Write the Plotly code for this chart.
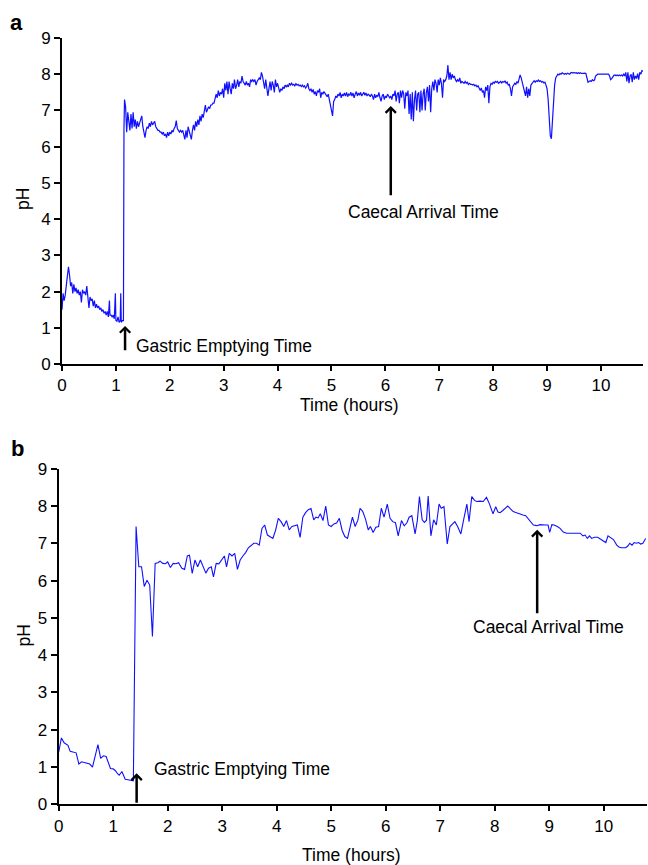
import plotly.graph_objects as go

# ---------------- Panel a data ----------------
a_time = [0.00,0.02,0.04,0.06,0.09,0.12,0.14,0.16,0.18,0.20,0.22,0.24,0.26,0.28,0.30,0.32,0.34,0.36,0.38,0.40,
          0.42,0.44,0.46,0.48,0.50,0.52,0.54,0.56,0.58,0.60,0.62,0.64,0.66,0.68,0.70,0.72,0.74,0.76,0.78,0.80,
          0.82,0.84,0.86,0.88,0.89,0.91,0.93,0.95,0.97,0.99,1.00,1.02,1.04,1.06,1.08,1.09,1.10,1.12,1.14,1.15,
          1.16,1.18,1.20,1.22,1.24,1.26,1.28,1.30,1.32,1.34,1.36,1.38,1.40,1.42,1.44,1.46,1.48,1.50,1.52,1.54,
          1.56,1.58,1.60,1.62,1.64,1.66,1.68,1.70,1.72,1.74,1.76,1.78,1.80,1.82,1.84,1.86,1.88,1.90,1.92,1.94,
          1.96,1.98,2.00,2.02,2.04,2.06,2.08,2.10,2.12,2.14,2.16,2.18,2.20,2.22,2.24,2.26,2.28,2.30,2.32,2.34,
          2.36,2.38,2.40,2.42,2.44,2.46,2.48,2.50,2.52,2.54,2.56,2.58,2.60,2.62,2.64,2.66,2.68,2.70,2.72,2.74,
          2.76,2.78,2.80,2.82,2.84,2.86,2.88,2.90,2.92,2.94,2.96,2.98,3.00,3.02,3.04,3.06,3.08,3.10,3.12,3.14,
          3.16,3.18,3.20,3.22,3.24,3.26,3.28,3.30,3.32,3.34,3.36,3.38,3.40,3.42,3.44,3.46,3.48,3.50,3.52,3.54,
          3.56,3.58,3.60,3.62,3.64,3.66,3.68,3.70,3.72,3.74,3.76,3.78,3.80,3.82,3.84,3.86,3.88,3.90,3.92,3.94,
          3.96,3.98,4.00,4.02,4.04,4.06,4.08,4.10,4.12,4.14,4.16,4.18,4.20,4.22,4.24,4.26,4.28,4.30,4.32,4.34,
          4.36,4.38,4.40,4.42,4.44,4.46,4.48,4.50,4.52,4.54,4.56,4.58,4.60,4.62,4.64,4.66,4.68,4.70,4.72,4.74,
          4.76,4.78,4.80,4.82,4.84,4.86,4.88,4.90,4.92,4.94,4.96,4.98,5.00,5.02,5.04,5.06,5.08,5.10,5.12,5.14,
          5.16,5.18,5.20,5.22,5.24,5.26,5.28,5.30,5.32,5.34,5.36,5.38,5.40,5.42,5.44,5.46,5.48,5.50,5.52,5.54,
          5.56,5.58,5.60,5.62,5.64,5.66,5.68,5.70,5.72,5.74,5.76,5.78,5.80,5.82,5.84,5.86,5.88,5.90,5.92,5.94,
          5.96,5.98,6.00,6.02,6.04,6.06,6.08,6.10,6.12,6.14,6.16,6.18,6.20,6.22,6.24,6.26,6.28,6.30,6.32,6.34,
          6.36,6.38,6.40,6.42,6.44,6.46,6.48,6.50,6.52,6.54,6.56,6.58,6.60,6.62,6.64,6.66,6.68,6.70,6.72,6.74,
          6.76,6.78,6.80,6.82,6.84,6.86,6.88,6.90,6.92,6.94,6.96,6.98,7.00,7.02,7.04,7.06,7.08,7.10,7.12,7.14,
          7.16,7.18,7.20,7.22,7.24,7.26,7.28,7.30,7.32,7.34,7.36,7.38,7.40,7.42,7.44,7.46,7.48,7.50,7.52,7.54,
          7.56,7.58,7.60,7.62,7.64,7.66,7.68,7.70,7.72,7.74,7.76,7.78,7.80,7.82,7.84,7.86,7.88,7.90,7.92,7.94,
          7.96,7.98,8.00,8.02,8.04,8.06,8.08,8.10,8.12,8.14,8.16,8.18,8.20,8.22,8.24,8.26,8.28,8.30,8.32,8.34,
          8.36,8.38,8.40,8.42,8.44,8.46,8.48,8.50,8.52,8.54,8.56,8.58,8.60,8.62,8.64,8.66,8.68,8.70,8.72,8.74,
          8.76,8.78,8.80,8.82,8.84,8.86,8.88,8.90,8.92,8.94,8.96,8.98,9.00,9.02,9.04,9.06,9.08,9.10,9.12,9.14,
          9.16,9.18,9.20,9.22,9.24,9.26,9.28,9.30,9.32,9.34,9.36,9.38,9.40,9.42,9.44,9.46,9.48,9.50,9.52,9.54,
          9.56,9.58,9.60,9.62,9.64,9.66,9.68,9.70,9.72,9.74,9.76,9.78,9.80,9.82,9.84,9.86,9.88,9.90,9.92,9.94,
          9.96,9.98,10.00,10.02,10.04,10.06,10.08,10.10,10.12,10.14,10.16,10.18,10.20,10.22,10.24,10.26,10.28,10.30,10.32,10.34,
          10.36,10.38,10.40,10.42,10.44,10.46,10.48,10.50,10.52,10.54,10.56,10.58,10.60,10.62,10.64,10.66,10.68,10.70,10.72,10.74,
          10.76,10.78]
a_ph = [1.50,1.95,1.75,1.90,2.30,2.68,2.45,2.15,2.25,1.95,2.20,2.00,2.10,1.95,2.05,1.90,2.00,1.70,2.05,1.95,
        2.00,1.90,2.15,1.80,1.55,1.85,1.75,1.80,1.60,1.75,1.55,1.65,1.55,1.60,1.50,1.55,1.45,1.50,1.40,1.45,
        1.35,1.45,1.30,1.75,1.35,1.35,1.30,1.35,1.25,1.95,1.20,1.18,1.30,1.15,1.20,1.95,1.15,1.20,1.20,6.50,
        7.30,7.10,6.40,6.95,6.60,6.45,6.90,6.50,6.95,6.55,6.75,6.50,6.70,6.55,6.65,6.75,6.85,6.55,6.40,6.25,
        6.45,6.55,6.50,6.65,6.55,6.70,6.60,6.65,6.70,6.55,6.50,6.45,6.45,6.40,6.40,6.35,6.40,6.30,6.35,6.25,
        6.40,6.30,6.40,6.35,6.45,6.40,6.50,6.55,6.72,6.50,6.45,6.40,6.45,6.40,6.45,6.35,6.20,6.45,6.25,6.55,
        6.40,6.30,6.20,6.45,6.60,6.45,6.70,6.55,6.75,6.60,6.85,6.70,6.90,6.80,7.00,7.15,6.95,7.05,7.10,7.05,
        7.15,7.15,7.20,7.20,7.35,7.45,7.35,7.55,7.40,7.50,7.45,7.60,7.35,7.75,7.55,7.80,7.45,7.80,7.60,7.45,
        7.75,7.60,7.85,7.60,7.70,7.85,7.65,7.80,7.75,7.95,7.80,7.75,7.70,7.80,7.70,7.75,7.65,7.85,7.80,7.85,
        7.80,7.85,7.70,7.80,7.85,7.90,7.85,8.05,7.95,7.75,7.60,7.85,7.55,7.40,7.60,7.80,7.55,7.80,7.70,7.50,
        7.85,7.65,7.75,7.60,7.50,7.60,7.55,7.65,7.60,7.70,7.65,7.70,7.65,7.75,7.70,7.75,7.70,7.72,7.68,7.74,
        7.70,7.72,7.68,7.70,7.66,7.70,7.65,7.68,7.62,7.66,7.75,7.60,7.55,7.60,7.50,7.58,7.45,7.52,7.40,7.55,
        7.50,7.60,7.35,7.50,7.45,7.52,7.48,7.42,7.38,7.45,7.30,7.15,6.95,6.85,7.25,7.30,7.40,7.35,7.45,7.40,
        7.50,7.35,7.45,7.40,7.48,7.40,7.50,7.38,7.45,7.42,7.50,7.40,7.48,7.35,7.45,7.52,7.40,7.48,7.42,7.50,
        7.40,7.45,7.50,7.42,7.48,7.40,7.45,7.42,7.38,7.45,7.40,7.30,7.45,7.35,7.42,7.38,7.50,7.35,7.25,7.40,
        7.45,7.30,7.40,7.35,7.45,7.40,7.35,7.40,7.30,7.45,7.40,7.55,7.25,7.45,7.50,7.20,7.55,7.35,7.55,7.45,
        7.05,7.50,7.40,7.55,6.90,7.45,6.75,7.50,6.70,7.30,7.55,7.00,7.45,7.50,6.95,7.55,7.00,7.45,7.60,7.00,
        7.50,7.65,7.25,7.70,6.95,7.60,7.80,7.55,7.85,7.75,7.50,7.85,7.70,7.90,7.75,7.35,7.85,7.80,7.85,7.95,
        8.25,7.85,8.05,7.85,8.00,7.90,7.95,7.85,7.80,7.85,7.80,7.90,7.75,7.80,7.78,7.75,7.80,7.75,7.78,7.72,
        7.75,7.72,7.72,7.70,7.72,7.68,7.70,7.65,7.68,7.60,7.55,7.62,7.50,7.55,7.35,7.65,7.55,7.70,7.20,7.65,
        7.75,7.72,7.78,7.75,7.80,7.78,7.80,7.75,7.78,7.80,7.76,7.80,7.78,7.82,7.75,7.78,7.70,7.72,7.60,7.40,
        7.65,7.70,7.75,7.72,7.80,7.75,7.85,7.98,7.90,7.75,7.60,7.55,7.40,7.65,7.35,7.60,7.40,7.70,7.75,7.80,
        7.82,7.78,7.82,7.80,7.84,7.80,7.82,7.78,7.80,7.76,7.78,7.70,7.60,7.30,6.80,6.30,6.22,6.60,7.20,7.70,
        7.90,7.95,8.00,7.98,8.02,8.00,8.04,8.02,8.00,8.02,8.00,8.03,8.02,8.00,8.04,8.05,8.03,8.05,8.03,8.04,
        8.02,8.04,8.02,8.04,8.02,8.03,8.02,8.03,8.02,7.85,7.78,7.80,7.82,7.80,7.85,7.82,7.84,7.95,7.98,8.00,
        8.00,8.00,8.00,7.98,8.00,7.98,8.00,7.98,7.98,8.00,7.95,7.85,7.88,7.95,7.97,7.98,7.96,7.98,7.96,7.98,
        7.96,7.98,7.95,8.00,7.95,8.05,7.80,8.05,7.75,7.95,8.00,7.78,8.05,7.85,7.95,7.88,8.02,7.85,8.05,8.00,
        8.10,8.08]

# ---------------- Panel b data ----------------
b_time = [0.00,0.05,0.10,0.13,0.17,0.21,0.26,0.32,0.37,0.42,0.47,0.52,0.57,0.62,0.67,0.72,0.77,0.82,0.87,0.91,
          0.95,1.00,1.04,1.08,1.11,1.16,1.22,1.27,1.32,1.37,1.42,1.47,1.52,1.57,1.62,1.67,1.72,1.77,1.82,1.86,
          1.91,1.96,2.00,2.05,2.10,2.15,2.20,2.26,2.31,2.36,2.40,2.45,2.50,2.55,2.60,2.65,2.70,2.75,2.80,2.84,
          2.89,2.94,2.99,3.04,3.08,3.13,3.18,3.23,3.28,3.33,3.38,3.43,3.48,3.53,3.58,3.63,3.68,3.73,3.78,3.83,
          3.88,3.93,3.98,4.03,4.08,4.13,4.18,4.23,4.28,4.33,4.38,4.43,4.48,4.53,4.58,4.63,4.68,4.72,4.76,4.80,
          4.85,4.90,4.95,5.00,5.05,5.10,5.15,5.20,5.25,5.30,5.35,5.39,5.44,5.49,5.53,5.58,5.63,5.68,5.72,5.77,
          5.82,5.87,5.92,5.97,6.03,6.08,6.13,6.18,6.23,6.29,6.34,6.39,6.43,6.48,6.54,6.58,6.62,6.67,6.71,6.75,
          6.78,6.83,6.88,6.93,6.98,7.02,7.07,7.13,7.18,7.23,7.27,7.32,7.38,7.43,7.49,7.53,7.58,7.63,7.67,7.73,
          7.79,7.85,7.90,7.97,8.02,8.06,8.10,8.15,8.20,8.24,8.29,8.34,8.40,8.46,8.52,8.57,8.62,8.67,8.71,8.75,
          8.78,8.83,8.88,8.93,8.98,9.01,9.05,9.09,9.15,9.20,9.26,9.32,9.40,9.48,9.57,9.62,9.66,9.70,9.74,9.78,
          9.83,9.89,9.95,10.04,10.08,10.13,10.18,10.24,10.28,10.32,10.40,10.44,10.48,10.52,10.56,10.60,10.64,10.68,10.72,10.77]
b_ph = [1.40,1.78,1.65,1.62,1.58,1.42,1.40,1.38,1.08,1.14,1.12,1.10,1.08,1.00,1.30,1.60,1.23,1.30,1.28,1.10,
        0.96,0.95,0.90,0.82,0.78,0.88,0.67,0.66,0.65,0.63,7.45,6.37,6.37,5.84,6.01,5.88,4.50,6.46,6.48,6.52,
        6.46,6.45,6.50,6.35,6.46,6.45,6.48,6.33,6.30,6.66,6.68,6.19,6.55,6.37,6.55,6.35,6.20,6.33,6.37,6.10,
        6.46,6.45,6.55,6.66,6.37,6.73,6.66,6.73,6.30,6.55,6.66,6.75,6.88,6.95,7.00,7.00,6.95,7.40,7.49,7.22,
        7.18,7.13,7.35,7.67,7.58,7.45,7.61,7.36,7.45,7.47,7.49,7.16,7.70,7.82,7.90,7.93,7.63,7.70,7.68,7.79,
        7.61,8.00,7.49,7.45,7.52,7.54,7.67,7.35,7.18,7.13,7.45,7.70,7.45,7.62,7.94,7.85,7.65,7.36,7.45,7.29,
        7.43,7.45,7.94,7.70,8.05,7.67,7.58,7.55,7.20,7.61,7.47,7.55,7.70,7.74,7.25,7.60,8.25,7.63,7.56,7.62,
        8.27,7.20,7.63,7.49,8.05,7.94,7.98,6.98,7.45,7.52,7.58,7.45,7.25,7.63,8.05,7.58,8.25,8.15,8.12,8.13,
        8.12,8.23,8.07,7.79,7.98,7.84,7.82,7.88,7.95,8.00,7.92,7.85,7.82,7.80,7.76,7.74,7.65,7.55,7.49,7.48,
        7.47,7.50,7.49,7.49,7.49,7.29,7.50,7.49,7.45,7.40,7.30,7.27,7.27,7.27,7.27,7.20,7.22,7.13,7.20,7.13,
        7.16,7.16,7.10,7.02,7.20,7.15,7.10,6.95,6.90,6.88,6.88,6.92,7.00,6.95,7.02,7.00,7.02,6.98,7.00,7.13]

y_ticks = [0, 1, 2, 3, 4, 5, 6, 7, 8, 9]
x_ticks = [0, 1, 2, 3, 4, 5, 6, 7, 8, 9, 10]

FONT = "Liberation Sans, Arial, sans-serif"
W, H = 648, 865
LINE = "#1010ff"

fig = go.Figure()
fig.add_trace(go.Scatter(x=a_time, y=a_ph, mode="lines", line=dict(color=LINE, width=1.2),
                         xaxis="x", yaxis="y", showlegend=False, hoverinfo="skip"))
fig.add_trace(go.Scatter(x=b_time, y=b_ph, mode="lines", line=dict(color=LINE, width=1.1),
                         xaxis="x2", yaxis="y2", showlegend=False, hoverinfo="skip"))

def xax(domain, anchor, rng):
    return dict(domain=domain, anchor=anchor, range=rng, tickvals=x_ticks, automargin=False,
                ticks="outside", ticklen=5, tickwidth=1.5, tickcolor="black",
                showline=True, linecolor="black", linewidth=2, showgrid=False, zeroline=False,
                tickfont=dict(family=FONT, size=17, color="black"))

def yax(domain, anchor):
    return dict(domain=domain, anchor=anchor, range=[0, 9], tickvals=y_ticks, automargin=False,
                ticks="outside", ticklen=6, tickwidth=1.5, tickcolor="black",
                showline=True, linecolor="black", linewidth=2, showgrid=False, zeroline=False,
                tickfont=dict(family=FONT, size=17, color="black"))

fig.update_layout(
    width=W, height=H, autosize=False,
    margin=dict(l=0, r=0, t=0, b=0, autoexpand=False),
    paper_bgcolor="white", plot_bgcolor="white",
    xaxis=xax([62 / W, 643 / W], "y", [0, 10.78]),
    yaxis=yax([(H - 364) / H, (H - 38) / H], "x"),
    xaxis2=xax([58.7 / W, 646.7 / W], "y2", [0, 10.79]),
    yaxis2=yax([(H - 804.3) / H, (H - 468.7) / H], "x2"),
)

txt = dict(family=FONT, size=17.5, color="black")
ann = []

def ptxt(text, px, py, **kw):
    d = dict(text=text, x=px / W, y=(H - py) / H, xref="paper", yref="paper",
             xanchor="center", yanchor="middle", showarrow=False, font=txt)
    d.update(kw)
    return d

# panel letters
ann.append(ptxt("<b>a</b>", 16.7, 22.7, font=dict(family=FONT, size=22, color="black")))
ann.append(ptxt("<b>b</b>", 17.3, 448.3, font=dict(family=FONT, size=22, color="black")))
# axis titles
ann.append(ptxt("pH", 23, 199, textangle=-90))
ann.append(ptxt("pH", 23.5, 636, textangle=-90))
ann.append(ptxt("Time (hours)", 349.5, 405))
ann.append(ptxt("Time (hours)", 351, 855))

def arrow(xr, yr, x, ytip, ytail):
    return dict(x=x, y=ytip, ax=x, ay=ytail, xref=xr, yref=yr, axref=xr, ayref=yr,
                text="", showarrow=True, arrowhead=4, arrowsize=0.8, arrowwidth=2.5,
                arrowcolor="black", standoff=0, startstandoff=0)

def dtxt(text, xr, yr, x, y, xanchor):
    return dict(text=text, x=x, y=y, xref=xr, yref=yr, xanchor=xanchor, yanchor="middle",
                showarrow=False, font=txt)

ann.append(arrow("x", "y", 1.17, 1.05, 0.34))
ann.append(dtxt("Gastric Emptying Time", "x", "y", 1.33, 0.50, "left"))
ann.append(arrow("x", "y", 6.10, 7.12, 4.62))
ann.append(dtxt("Caecal Arrival Time", "x", "y", 6.70, 4.19, "center"))

ann.append(arrow("x2", "y2", 1.43, 0.83, 0.0))
ann.append(dtxt("Gastric Emptying Time", "x2", "y2", 1.72, 0.95, "left"))
ann.append(arrow("x2", "y2", 8.78, 7.36, 5.08))
ann.append(dtxt("Caecal Arrival Time", "x2", "y2", 8.98, 4.76, "center"))

fig.update_layout(annotations=ann)
fig.write_html("out.html")
